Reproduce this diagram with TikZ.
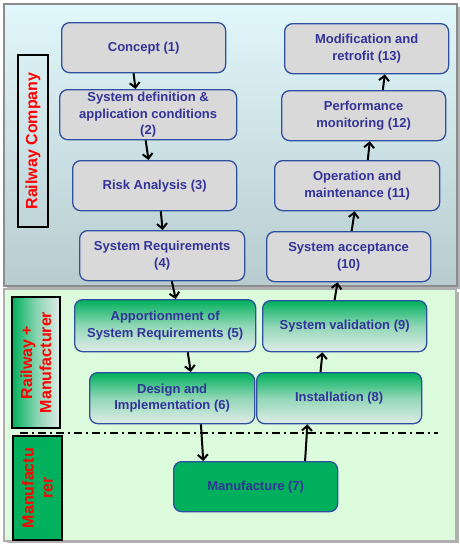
\documentclass[tikz,border=0pt]{standalone}
\usepackage{fontspec}
\setmainfont{Liberation Sans}
\usetikzlibrary{calc,arrows.meta}
\definecolor{panelTop}{HTML}{E0F7FB}
\definecolor{panelBot}{HTML}{B8CCCF}
\definecolor{panelGreen}{HTML}{DCFADC}
\definecolor{boxBlue}{HTML}{2F4F9F}
\definecolor{txtBlue}{HTML}{333399}
\definecolor{boxGrey}{HTML}{D9D9D9}
\definecolor{grn}{HTML}{00B05C}
\definecolor{pale}{HTML}{E0ECE8}
\definecolor{frameGrey}{HTML}{8C8C8C}
\tikzset{
  stagebox/.style={draw=boxBlue, line width=1.3pt, rounded corners=8pt,
    anchor=north west, inner sep=0pt, align=center, text=txtBlue,
    font=\fontsize{13}{16.5}\selectfont\bfseries},
  greybox/.style={stagebox, fill=boxGrey},
  gradbox/.style={stagebox, top color=grn, bottom color=pale, middle color=pale!65!grn},
  solidbox/.style={stagebox, fill=grn},
  rolebox/.style={draw=black, line width=2pt, anchor=north west, inner sep=0pt},
  roletext/.style={rotate=90, text=red, align=center,
    font=\fontsize{16}{19}\selectfont\bfseries},
  flow/.style={line width=2pt, -{Straight Barb[length=5pt,width=10pt]}},
}
\newcommand{\stage}[6]{% style, name, x1, y1, x2, y2
  \node[#1, minimum width=#5pt-#3pt, minimum height=#6pt-#4pt] (#2) at (#3,#4)}
\begin{document}
\begin{tikzpicture}[x=1pt,y=-1pt]
\useasboundingbox (0,0) rectangle (460,544);
% panels
\fill[gray!60] (7,7) rectangle (460,289);
\shade[top color=panelTop, bottom color=panelBot, draw=frameGrey, line width=1.2pt]
  (4,4) rectangle (457,286);
\fill[gray!60] (7,292) rectangle (459,543);
\filldraw[fill=panelGreen, draw=frameGrey!70, line width=1.2pt] (4,289) rectangle (456,541);
% role labels
\node[rolebox, minimum width=30pt, minimum height=172pt] (rc) at (17,54) {};
\node[roletext] at (rc.center) {Railway Company};
\node[rolebox, left color=grn, right color=pale, middle color=pale!60!grn,
  minimum width=48pt, minimum height=131pt] (rm) at (11,296) {};
\node[roletext] at (rm.center) {Railway +\\Manufacturer};
\node[rolebox, fill=grn, minimum width=49pt, minimum height=104pt] (mf) at (12,435) {};
\node[roletext] at (mf.center) {Manufactu\\rer};
% separator
\draw[line width=1.6pt, dash pattern=on 8pt off 4pt on 2pt off 4pt] (20,433) -- (438,433);
% stages
\stage{greybox}{c1}{61}{22}{225}{72} {Concept (1)};
\stage{greybox}{c2}{59}{89}{236}{139} {System definition \&\\application conditions\\(2)};
\stage{greybox}{c3}{72}{160}{236}{210} {Risk Analysis (3)};
\stage{greybox}{c4}{79}{230}{244}{280} {System Requirements\\(4)};
\stage{gradbox}{c5}{74}{299}{255}{351} {Apportionment of\\System Requirements (5)};
\stage{gradbox}{c6}{89}{372}{254}{423} {Design and\\Implementation (6)};
\stage{solidbox}{c7}{173}{461}{337}{511} {Manufacture (7)};
\stage{gradbox}{c8}{256}{372}{421}{423} {Installation (8)};
\stage{gradbox}{c9}{262}{300}{426}{351} {System validation (9)};
\stage{greybox}{c10}{266}{231}{430}{281} {System acceptance\\(10)};
\stage{greybox}{c11}{274}{160}{439}{210} {Operation and\\maintenance (11)};
\stage{greybox}{c12}{281}{90}{445}{140} {Performance\\monitoring (12)};
\stage{greybox}{c13}{284}{23}{448}{73} {Modification and\\retrofit (13)};
% flow arrows
\draw[flow] ($(c1.south west)!0.439!(c1.south east)$) -- ($(c2.north west)!0.429!(c2.north east)$);
\draw[flow] ($(c2.south west)!0.486!(c2.south east)$) -- ($(c3.north west)!0.463!(c3.north east)$);
\draw[flow] ($(c3.south west)!0.537!(c3.south east)$) -- ($(c4.north west)!0.503!(c4.north east)$);
\draw[flow] ($(c4.south west)!0.558!(c4.south east)$) -- ($(c5.north west)!0.558!(c5.north east)$);
\draw[flow] ($(c5.south west)!0.624!(c5.south east)$) -- ($(c6.north west)!0.612!(c6.north east)$);
\draw[flow] ($(c6.south west)!0.673!(c6.south east)$) -- ($(c7.north west)!0.183!(c7.north east)$);
\draw[flow] ($(c7.north west)!0.799!(c7.north east)$) -- ($(c8.south west)!0.309!(c8.south east)$);
\draw[flow] ($(c8.north west)!0.388!(c8.north east)$) -- ($(c9.south west)!0.366!(c9.south east)$);
\draw[flow] ($(c9.north west)!0.439!(c9.north east)$) -- ($(c10.south west)!0.433!(c10.south east)$);
\draw[flow] ($(c10.north west)!0.518!(c10.north east)$) -- ($(c11.south west)!0.485!(c11.south east)$);
\draw[flow] ($(c11.north west)!0.564!(c11.north east)$) -- ($(c12.south west)!0.537!(c12.south east)$);
\draw[flow] ($(c12.north west)!0.616!(c12.north east)$) -- ($(c13.south west)!0.610!(c13.south east)$);
\end{tikzpicture}
\end{document}
